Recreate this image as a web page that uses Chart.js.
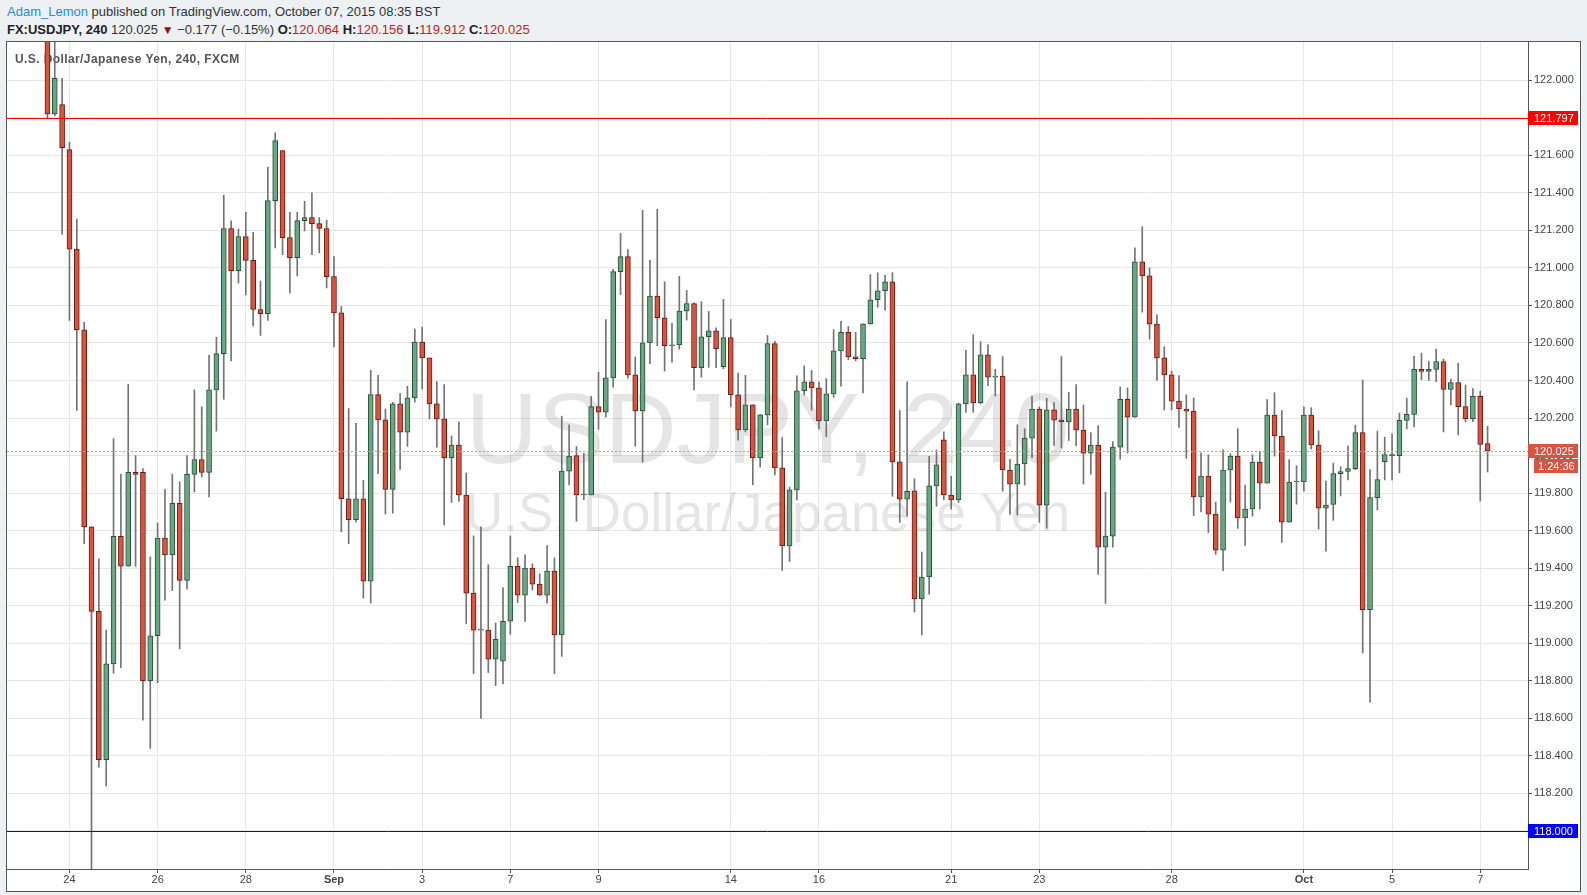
<!DOCTYPE html>
<html>
<head>
<meta charset="utf-8">
<script src="https://cdn.jsdelivr.net/npm/chart.js@4.4.0/dist/chart.umd.min.js"></script>
<style>
html, body { margin: 0; padding: 0; width: 1587px; height: 895px; overflow: hidden; background: #eef1f4; font-family: "Liberation Sans", Arial, sans-serif; }
.hdr { position: absolute; left: 7px; font-size: 13px; line-height: 15px; color: #333; white-space: nowrap; }
#l1 { top: 4px; }
#l2 { top: 22px; }
.user { color: #2b8cd0; }
.b { font-weight: bold; color: #222; }
.r { color: #b8261e; }
.tri { color: #8b1a10; font-size: 12px; }
#panel { position: absolute; left: 6px; top: 41px; width: 1573px; height: 849px; border: 1px solid #555; background: #fff; }
canvas { display: block; }
</style>
</head>
<body>
<div class="hdr" id="l1"><span class="user">Adam_Lemon</span> published on TradingView.com, October 07, 2015 08:35 BST</div>
<div class="hdr" id="l2"><span class="b">FX:USDJPY, 240</span> 120.025 <span class="tri">&#9660;</span> &minus;0.177 (&minus;0.15%) <span class="b">O:</span><span class="r">120.064</span> <span class="b">H:</span><span class="r">120.156</span> <span class="b">L:</span><span class="r">119.912</span> <span class="b">C:</span><span class="r">120.025</span></div>
<div id="panel"><canvas id="c" width="1573" height="849"></canvas></div>
<script>
// 4h candles, first visible one is 3 bars before Aug 24
const opens = [122.35, 121.82, 121.87,
  121.63, 121.10, 120.67, 119.62, 119.17, 118.38,
  118.89, 119.57, 119.41, 119.91, 119.91, 118.80,
  119.04, 119.56, 119.47, 119.745, 119.335, 119.90,
  119.978, 119.91, 120.35, 120.543, 121.21, 120.985,
  121.167, 121.04, 120.778, 120.756, 121.358, 121.625,
  121.161, 121.055, 121.252, 121.268, 121.236, 121.21,
  120.953, 120.76, 119.77, 119.658, 119.77, 119.33,
  120.325, 120.19, 119.82, 120.275, 120.125, 120.307,
  120.605, 120.52, 120.275, 120.195, 119.988, 120.056,
  119.79, 119.267, 119.07, 119.07, 118.915, 118.904,
  119.117, 119.41, 119.256, 119.40, 119.315, 119.256,
  119.384, 119.044, 119.917, 120.0, 119.79, 119.79,
  120.261, 120.231, 120.414, 120.98, 121.06, 120.43,
  120.238, 120.60, 120.85, 120.734, 120.585, 120.59,
  120.77, 120.81, 120.468, 120.633, 120.665, 120.473,
  120.628, 120.324, 120.137, 120.27, 119.988, 120.217,
  120.596, 119.934, 119.518, 119.817, 120.345, 120.393,
  120.361, 120.185, 120.329, 120.558, 120.656, 120.526,
  120.516, 120.702, 120.83, 120.878, 120.926, 119.966,
  119.767, 119.812, 119.236, 119.353, 119.838, 120.084,
  119.79, 119.763, 120.275, 120.43, 120.28, 120.536,
  120.418, 120.424, 119.923, 119.848, 119.955, 120.093,
  120.248, 119.736, 120.243, 120.189, 120.179, 120.248,
  120.136, 120.013, 120.056, 119.512, 119.571, 120.045,
  120.30, 120.205, 121.032, 120.957, 120.70, 120.52,
  120.43, 120.29, 120.248, 120.237, 119.779, 119.891,
  119.688, 119.496, 119.923, 119.997, 119.667, 119.715,
  119.965, 119.853, 120.216, 120.104, 119.645, 119.859,
  119.859, 120.216, 120.056, 119.72, 119.739, 119.904,
  119.915, 119.93, 120.123, 119.179, 119.776, 119.968,
  120.004, 120.0, 120.187, 120.219, 120.459, 120.448,
  120.459, 120.501, 120.352, 120.389, 120.261, 120.197,
  120.315, 120.064];

const highs = [122.50, 122.25, 122.01,
  121.67, 121.26, 120.71, 119.62, 119.45, 119.07,
  120.09, 119.90, 120.38, 120.00, 119.93, 119.46,
  119.64, 119.82, 119.90, 119.86, 120.00, 120.35,
  120.26, 120.534, 120.63, 121.387, 121.25, 121.206,
  121.296, 121.19, 120.93, 121.536, 121.72, 121.625,
  121.296, 121.296, 121.355, 121.40, 121.268, 121.254,
  121.06, 120.794, 120.25, 120.172, 119.868, 120.455,
  120.428, 120.248, 120.284, 120.33, 120.369, 120.675,
  120.684, 120.52, 120.394, 120.378, 120.104, 120.18,
  119.907, 119.572, 119.62, 119.418, 119.108, 119.296,
  119.572, 119.455, 119.471, 119.423, 119.37, 119.52,
  119.455, 120.21, 120.164, 120.048, 120.012, 120.315,
  120.444, 120.725, 120.992, 121.184, 121.097, 120.525,
  121.307, 121.04, 121.312, 120.926, 120.704, 120.955,
  120.88, 120.814, 120.82, 120.768, 120.68, 120.832,
  120.725, 120.44, 120.427, 120.27, 120.22, 120.64,
  120.608, 120.096, 119.831, 120.425, 120.478, 120.453,
  120.393, 120.41, 120.67, 120.715, 120.688, 120.656,
  120.702, 120.964, 120.974, 120.96, 120.974, 120.24,
  120.393, 119.876, 119.486, 119.996, 120.03, 120.126,
  119.89, 120.28, 120.56, 120.644, 120.607, 120.59,
  120.46, 120.527, 119.98, 120.164, 120.143, 120.316,
  120.259, 120.305, 120.282, 120.527, 120.337, 120.378,
  120.269, 120.122, 120.16, 119.804, 120.074, 120.365,
  120.36, 121.107, 121.219, 121.0, 120.75, 120.58,
  120.45, 120.426, 120.324, 120.307, 120.015, 120.004,
  119.752, 120.031, 120.01, 120.143, 119.843, 120.004,
  120.02, 120.298, 120.335, 120.239, 119.978, 119.946,
  120.26, 120.255, 120.132, 119.864, 119.96, 119.94,
  120.05, 120.162, 120.402, 119.925, 120.13, 120.098,
  120.114, 120.226, 120.306, 120.53, 120.546, 120.503,
  120.567, 120.514, 120.407, 120.492, 120.375, 120.357,
  120.343, 120.156];

const lows = [121.80, 121.81, 121.18,
  120.72, 120.24, 119.53, 116.15, 118.34, 118.24,
  118.84, 118.87, 119.41, 119.41, 118.59, 118.44,
  118.79, 119.23, 119.28, 118.97, 119.29, 119.806,
  119.886, 119.78, 120.13, 120.30, 120.504, 120.92,
  120.856, 120.69, 120.64, 120.72, 121.106, 121.07,
  120.866, 120.957, 121.197, 121.07, 121.08, 120.893,
  120.58, 119.593, 119.53, 119.646, 119.24, 119.214,
  119.904, 119.688, 119.693, 119.926, 120.049, 120.284,
  120.355, 120.195, 120.044, 119.63, 119.75, 119.756,
  119.105, 118.838, 118.60, 118.844, 118.774, 118.785,
  119.048, 119.217, 119.116, 119.283, 119.256, 119.213,
  118.838, 118.93, 119.843, 119.65, 119.765, 119.79,
  120.14, 120.204, 120.364, 120.857, 120.412, 120.05,
  119.964, 120.49, 120.585, 120.45, 120.498, 120.567,
  120.722, 120.35, 120.418, 120.47, 120.468, 120.462,
  120.26, 120.082, 120.126, 119.844, 119.94, 120.164,
  119.897, 119.388, 119.436, 119.764, 120.322, 120.242,
  120.142, 120.10, 120.31, 120.37, 120.51, 120.505,
  120.334, 120.70, 120.79, 120.775, 119.783, 119.644,
  119.676, 119.166, 119.044, 119.262, 119.73, 119.764,
  119.714, 119.75, 120.23, 120.23, 120.275, 120.372,
  120.317, 119.81, 119.686, 119.683, 119.843, 119.987,
  119.644, 119.613, 120.054, 120.04, 120.08, 120.052,
  119.848, 119.90, 119.366, 119.212, 119.512, 119.98,
  120.013, 120.205, 120.764, 120.62, 120.40, 120.243,
  120.243, 120.15, 119.985, 119.68, 119.699, 119.59,
  119.473, 119.386, 119.752, 119.612, 119.521, 119.677,
  119.715, 119.853, 119.997, 119.537, 119.645, 119.741,
  119.81, 120.035, 119.608, 119.49, 119.655, 119.785,
  119.87, 119.925, 118.948, 118.686, 119.71, 119.87,
  119.87, 119.908, 120.142, 120.153, 120.404, 120.40,
  120.393, 120.126, 120.27, 120.11, 120.18, 120.18,
  119.758, 119.912];

const closes = [121.82, 122.01, 121.64,
  121.10, 120.67, 119.62, 119.17, 118.38, 118.89,
  119.57, 119.41, 119.91, 119.90, 118.80, 119.04,
  119.56, 119.47, 119.745, 119.335, 119.90, 119.978,
  119.91, 120.35, 120.543, 121.21, 120.985, 121.167,
  121.04, 120.778, 120.756, 121.358, 121.678, 121.161,
  121.055, 121.252, 121.268, 121.236, 121.21, 120.953,
  120.76, 119.77, 119.658, 119.77, 119.33, 120.325,
  120.19, 119.82, 120.275, 120.125, 120.307, 120.605,
  120.52, 120.275, 120.195, 119.988, 120.056, 119.79,
  119.267, 119.07, 119.072, 118.915, 119.021, 119.117,
  119.41, 119.256, 119.40, 119.315, 119.256, 119.384,
  119.044, 119.917, 119.997, 119.79, 119.792, 120.261,
  120.231, 120.414, 120.98, 121.06, 120.43, 120.238,
  120.60, 120.85, 120.734, 120.585, 120.59, 120.77,
  120.81, 120.468, 120.633, 120.665, 120.569, 120.628,
  120.324, 120.137, 120.27, 119.988, 120.217, 120.596,
  119.934, 119.518, 119.817, 120.345, 120.393, 120.361,
  120.185, 120.329, 120.558, 120.656, 120.526, 120.516,
  120.702, 120.83, 120.878, 120.926, 119.966, 119.767,
  119.81, 119.236, 119.353, 119.838, 119.95, 119.79,
  119.764, 120.275, 120.43, 120.28, 120.536, 120.418,
  120.42, 119.923, 119.848, 119.955, 120.093, 120.248,
  119.736, 120.243, 120.189, 120.179, 120.248, 120.136,
  120.013, 120.056, 119.512, 119.571, 120.045, 120.30,
  120.205, 121.032, 120.957, 120.70, 120.52, 120.43,
  120.29, 120.248, 120.237, 119.779, 119.891, 119.688,
  119.496, 119.923, 119.997, 119.667, 119.715, 119.965,
  119.853, 120.216, 120.104, 119.645, 119.859, 119.86,
  120.216, 120.056, 119.72, 119.736, 119.904, 119.915,
  119.93, 120.123, 119.179, 119.776, 119.872, 120.005,
  120.0, 120.187, 120.219, 120.459, 120.448, 120.459,
  120.501, 120.352, 120.389, 120.261, 120.197, 120.315,
  120.059, 120.025];

// day labels on the time axis, by bar number counted from the first Aug 24 bar
const tickLabels = ['24', '26', '28', 'Sep', '3', '7', '9', '14', '16', '21', '23', '28', 'Oct', '5', '7'];
const tickBars = [0, 12, 24, 36, 48, 60, 72, 90, 102, 120, 132, 150, 168, 180, 192];
const boldTicks = ['Sep', 'Oct'];

const yTicks = [118.0, 118.2, 118.4, 118.6, 118.8, 119.0, 119.2, 119.4, 119.6, 119.8,
  120.0, 120.2, 120.4, 120.6, 120.8, 121.0, 121.2, 121.4, 121.6, 121.8, 122.0];

const levelValues = [121.797, 118.000];
const levelColors = ['#ff0000', '#0000ff'];
const lastPrice = 120.025;
const countdown = '1:24:36';
const watermark = ['USDJPY, 240', 'U.S. Dollar/Japanese Yen'];
const symbolTitle = 'U.S. Dollar/Japanese Yen, 240, FXCM';

const FONT = '"Liberation Sans", Arial, sans-serif';
const PRE = 8;        // empty slots before the Aug 24 bar
const FIRST = 5;      // slot of the first candle
const N = 207;        // all slots incl. empty space on the right

const UP = '#6ba583', UP_EDGE = '#225437';
const DN = '#d75442', DN_EDGE = '#6b1a0e';
const WICK = '#737373';

const labels = Array.from({length: N}, (_, i) => String(i - PRE));
const bodies = new Array(N).fill(null);
const wicks = new Array(N).fill(null);
const fills = new Array(N).fill(UP);
const edges = new Array(N).fill(UP_EDGE);
opens.forEach((o, j) => {
  const i = FIRST + j;
  bodies[i] = [o, closes[j]];
  wicks[i] = [lows[j], highs[j]];
  if (closes[j] < o) { fills[i] = DN; edges[i] = DN_EDGE; }
});

const overlay = {
  id: 'overlay',
  beforeDatasetsDraw(chart) {
    const {ctx, chartArea: a} = chart;
    ctx.save();
    ctx.fillStyle = 'rgba(0,0,0,0.1)';
    ctx.textAlign = 'center';
    ctx.textBaseline = 'alphabetic';
    const cx = (a.left + a.right) / 2;
    ctx.font = '100px ' + FONT;
    ctx.fillText(watermark[0], cx, a.top + 421);
    ctx.font = '53px ' + FONT;
    ctx.fillText(watermark[1], cx, a.top + 489);
    ctx.fillStyle = '#555';
    ctx.textAlign = 'left';
    ctx.textBaseline = 'middle';
    ctx.font = 'bold 12px ' + FONT;
    ctx.letterSpacing = '0.4px';
    ctx.fillText(symbolTitle, a.left + 8, a.top + 18);
    ctx.restore();
  },
  afterDatasetsDraw(chart) {
    const {ctx, chartArea: a, scales: {y}} = chart;
    ctx.save();
    ctx.lineWidth = 1;
    levelValues.forEach((v, i) => {
      const py = Math.round(y.getPixelForValue(v)) + 0.5;
      ctx.strokeStyle = levelColors[i];
      ctx.beginPath(); ctx.moveTo(a.left, py); ctx.lineTo(a.right, py); ctx.stroke();
    });
    const pl = Math.round(y.getPixelForValue(lastPrice)) + 0.5;
    ctx.strokeStyle = '#ef8e7e';
    ctx.setLineDash([2, 2]);
    ctx.beginPath(); ctx.moveTo(a.left, pl); ctx.lineTo(a.right, pl); ctx.stroke();
    ctx.restore();
  },
  afterDraw(chart) {
    const {ctx, chartArea: a, scales: {y}} = chart;
    ctx.save();
    ctx.font = '11px ' + FONT;
    ctx.textBaseline = 'middle';
    ctx.textAlign = 'left';
    const box = (v, text, bg) => {
      const py = Math.round(y.getPixelForValue(v));
      ctx.fillStyle = bg;
      ctx.fillRect(a.right, py - 7, 50, 14);
      ctx.fillStyle = '#fff';
      ctx.fillText(text, a.right + 6, py + 0.5);
      return py;
    };
    levelValues.forEach((v, i) => box(v, v.toFixed(3), levelColors[i]));
    const pl = box(lastPrice, lastPrice.toFixed(3), DN);
    ctx.fillStyle = DN;
    ctx.fillRect(a.right + 6, pl + 8, 44, 14);
    ctx.fillStyle = '#fff';
    ctx.fillText(countdown, a.right + 10, pl + 15.5);
    ctx.restore();
  }
};

new Chart(document.getElementById('c'), {
  type: 'bar',
  data: {
    labels: labels,
    datasets: [
      {
        label: 'wick', data: wicks, backgroundColor: WICK,
        barThickness: 1, grouped: false, order: 2, clip: 0
      },
      {
        label: 'body', data: bodies, backgroundColor: fills, borderColor: edges,
        borderWidth: 1, borderSkipped: false, barThickness: 5, minBarLength: 1,
        grouped: false, order: 1, clip: 0
      }
    ]
  },
  options: {
    responsive: false,
    animation: false,
    devicePixelRatio: 1,
    events: [],
    layout: {padding: 0},
    plugins: {legend: {display: false}, tooltip: {enabled: false}},
    scales: {
      x: {
        type: 'category',
        offset: true,
        grid: {offset: false, color: '#e6e6e6', tickColor: '#555', tickLength: 4},
        border: {display: true, color: '#555'},
        ticks: {
          autoSkip: false, maxRotation: 0, padding: 0, color: '#444',
          font: (c) => ({family: FONT, size: 11, weight: boldTicks.includes(tickLabels[c.index]) ? 'bold' : 'normal'}),
          callback: (v) => {
            const j = tickBars.indexOf(v - PRE);
            return j < 0 ? '' : tickLabels[j];
          }
        },
        afterBuildTicks: (s) => { s.ticks = tickBars.map(b => ({value: b + PRE})); },
        afterFit: (s) => { s.height = 22; s.paddingLeft = 0; s.paddingRight = 0; }
      },
      y: {
        position: 'right',
        min: 117.797,
        max: 122.2035,
        grid: {color: '#e6e6e6', tickColor: '#555', tickLength: 4},
        border: {display: true, color: '#555'},
        ticks: {
          padding: 2, color: '#444',
          font: {family: FONT, size: 11},
          callback: (v) => Number(v).toFixed(3)
        },
        afterBuildTicks: (s) => { s.ticks = yTicks.map(v => ({value: v})); },
        afterFit: (s) => { s.width = 52; s.paddingTop = 0; s.paddingBottom = 0; }
      }
    }
  },
  plugins: [overlay]
});
</script>
</body>
</html>
